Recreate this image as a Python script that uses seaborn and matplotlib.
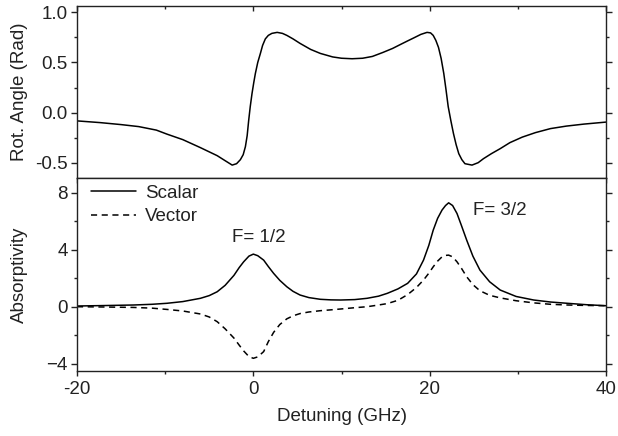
import numpy as np
import pandas as pd
import matplotlib
matplotlib.use("Agg")
import matplotlib.pyplot as plt
from matplotlib.ticker import MultipleLocator
import seaborn as sns

# ---- data ----
rot_x = [-20, -17.4, -15, -13, -11, -9.8, -8, -6.0, -4.1, -3.2, -2.4, -1.9, -1.47, -1.15, -0.9,
         -0.7, -0.53, -0.35, -0.15, 0.05, 0.23, 0.5, 0.8, 1.05, 1.36, 1.7, 2.1, 2.7, 3.3, 3.8,
         4.5, 5.3, 6.5, 7.6, 9.0, 10.0, 11.2, 12.4, 13.5, 14.7, 15.8, 16.7, 17.5, 18.2, 19.0,
         19.7, 20.1, 20.4, 20.7, 21.0, 21.3, 21.6, 21.85, 22.1, 22.4, 22.7, 23.0, 23.3, 23.65,
         24.0, 24.8, 25.5, 26.1, 27.0, 28.0, 29.1, 30.5, 32.0, 33.7, 35.5, 37.5, 40]
rot_y = [-0.083, -0.100, -0.120, -0.140, -0.175, -0.215, -0.270, -0.350, -0.430, -0.480, -0.524,
         -0.510, -0.470, -0.420, -0.340, -0.230, -0.080, 0.060, 0.190, 0.300, 0.390, 0.500,
         0.590, 0.670, 0.735, 0.770, 0.790, 0.800, 0.790, 0.770, 0.735, 0.690, 0.630, 0.590,
         0.555, 0.542, 0.537, 0.542, 0.560, 0.600, 0.640, 0.680, 0.715, 0.745, 0.780,
         0.800, 0.795, 0.770, 0.720, 0.650, 0.540, 0.390, 0.230, 0.060, -0.080, -0.210,
         -0.320, -0.410, -0.470, -0.510, -0.524, -0.500, -0.460, -0.410, -0.360, -0.300,
         -0.245, -0.200, -0.160, -0.135, -0.115, -0.095]

abs_x = [-20, -17, -13.6, -11.5, -9.8, -8, -6.0, -5.0, -4.1, -3.2, -2.2, -1.6, -1.1, -0.5, 0,
         0.5, 1.17, 1.7, 2.3, 3.0, 3.8, 4.5, 5.3, 6.3, 7.6, 8.8, 9.9, 11.5, 12.9, 14.2, 15.2,
         16.4, 17.5, 18.5, 19.3, 19.9, 20.4, 20.9, 21.4, 21.8, 22.15, 22.6, 23.1, 23.6, 24.2,
         24.9, 25.7, 26.8, 28.0, 29.8, 31.8, 33.7, 35.6, 37.8, 40]
scalar_y = [0.05, 0.08, 0.12, 0.17, 0.24, 0.36, 0.59, 0.78, 1.05, 1.50, 2.20, 2.75, 3.15, 3.55,
            3.69, 3.58, 3.27, 2.82, 2.34, 1.85, 1.40, 1.08, 0.82, 0.64, 0.52, 0.48, 0.47, 0.50,
            0.59, 0.74, 0.94, 1.25, 1.64, 2.30, 3.27, 4.30, 5.37, 6.20, 6.78, 7.10, 7.29, 7.10,
            6.54, 5.70, 4.67, 3.55, 2.57, 1.75, 1.17, 0.72, 0.47, 0.33, 0.24, 0.14, 0.07]
vector_y = [0.00, -0.02, -0.05, -0.10, -0.19, -0.30, -0.51, -0.72, -1.05, -1.55, -2.20, -2.70,
            -3.10, -3.50, -3.62, -3.52, -3.15, -2.45, -1.80, -1.25, -0.85, -0.64, -0.48, -0.37,
            -0.28, -0.22, -0.16, -0.07, 0.00, 0.12, 0.22, 0.45, 0.85, 1.35, 1.87, 2.35, 2.80,
            3.20, 3.50, 3.60, 3.62, 3.50, 3.15, 2.70, 2.10, 1.55, 1.12, 0.80, 0.62, 0.42,
            0.27, 0.17, 0.12, 0.09, 0.07]

x_ticks = [-20, 0, 20, 40]
rot_ticks = [-0.5, 0.0, 0.5, 1.0]
abs_ticks = [-4, 0, 4, 8]

# ---- style ----
FS = 13.5
TXT = "#222222"
sns.set_style("ticks")
plt.rcParams["font.family"] = ["Liberation Sans", "DejaVu Sans"]
plt.rcParams["font.size"] = FS
plt.rcParams["axes.linewidth"] = 1.0

fig = plt.figure(figsize=(6.18, 4.36), dpi=100)
ax1 = fig.add_axes([0.1246, 0.5917, 0.856, 0.3945])
ax2 = fig.add_axes([0.1246, 0.1491, 0.856, 0.4426])

rot_df = pd.DataFrame({"x": rot_x, "y": rot_y})
abs_df = pd.DataFrame({"x": abs_x, "Scalar": scalar_y, "Vector": vector_y})

sns.lineplot(data=rot_df, x="x", y="y", ax=ax1, color="black", lw=1.1,
             estimator=None, sort=False)
sns.lineplot(data=abs_df, x="x", y="Scalar", ax=ax2, color="black", lw=1.1,
             estimator=None, sort=False, label="Scalar")
sns.lineplot(data=abs_df, x="x", y="Vector", ax=ax2, color="black", lw=1.1,
             estimator=None, sort=False, label="Vector", linestyle=(0, (4, 3)))

for ax in (ax1, ax2):
    ax.set_xlim(-20, 40)
    ax.xaxis.set_major_locator(MultipleLocator(20))
    ax.xaxis.set_minor_locator(MultipleLocator(10))
    for s in ax.spines.values():
        s.set_visible(True)
        s.set_linewidth(1.0)
        s.set_color(TXT)
    ax.tick_params(axis="y", which="both", direction="out", right=True, labelright=False,
                   left=True, colors=TXT, labelcolor=TXT, labelsize=FS)
    ax.tick_params(axis="y", which="major", length=4.5, width=1.0, pad=2)
    ax.tick_params(axis="y", which="minor", length=2.5, width=1.0)
    ax.tick_params(axis="x", which="major", length=3.5, width=1.0, direction="out",
                   colors=TXT, labelcolor=TXT, labelsize=FS)
    ax.tick_params(axis="x", which="minor", length=2.5, width=1.0, direction="out",
                   colors=TXT)
    ax.set_xlabel("")
    ax.set_ylabel("")

# top panel
ax1.set_ylim(-0.653, 1.063)
ax1.set_yticks(rot_ticks)
ax1.set_yticklabels(["-0.5", "0.0", "0.5", "1.0"])
ax1.yaxis.set_minor_locator(MultipleLocator(0.25))
ax1.tick_params(axis="x", labelbottom=False, top=False)
sec = ax1.secondary_xaxis("top")
sec.set_xticks(x_ticks)
sec.xaxis.set_minor_locator(MultipleLocator(10))
sec.tick_params(axis="x", which="both", direction="in", labeltop=False, colors=TXT)
sec.tick_params(axis="x", which="major", length=3.5, width=1.0)
sec.tick_params(axis="x", which="minor", length=2.5, width=1.0)
sec.spines["top"].set_visible(False)
ax1.set_ylabel("Rot. Angle (Rad)", fontsize=FS, color=TXT)

# bottom panel
ax2.set_ylim(-4.51, 9.03)
ax2.set_yticks(abs_ticks)
ax2.yaxis.set_minor_locator(MultipleLocator(2))
ax2.set_xticks(x_ticks)
ax2.set_xticklabels([str(v) for v in x_ticks])
ax2.tick_params(axis="x", pad=4)
ax2.set_ylabel("Absorptivity", fontsize=FS, color=TXT)
ax2.set_xlabel("Detuning (GHz)", fontsize=FS, color=TXT, labelpad=7)

ax1.yaxis.set_label_coords(-0.093, 0.5)
ax2.yaxis.set_label_coords(-0.093, 0.5)

leg = ax2.legend(loc="upper left", frameon=False, handlelength=2.4, handletextpad=0.5,
                 borderaxespad=0.2, labelspacing=0.35, fontsize=FS,
                 bbox_to_anchor=(0.005, 1.025))
for t in leg.get_texts():
    t.set_color(TXT)

ax2.text(0.6, 4.85, "F= 1/2", ha="center", va="center", fontsize=FS, color=TXT)
ax2.text(28.0, 6.75, "F= 3/2", ha="center", va="center", fontsize=FS, color=TXT)

fig.savefig("out.png", dpi=100)
